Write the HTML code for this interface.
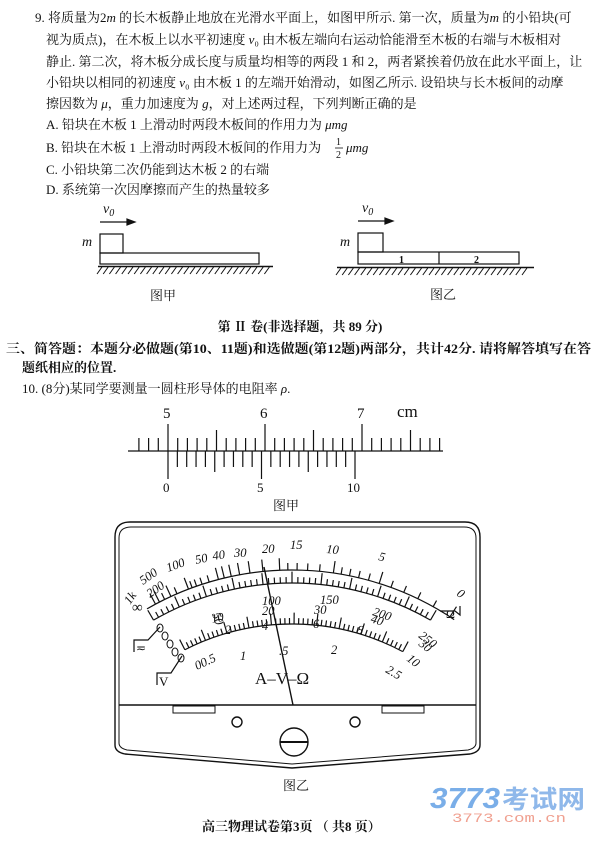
<!DOCTYPE html>
<html><head><meta charset="utf-8">
<style>
body{margin:0;background:#fff;}
svg{display:block}
.t{font-family:"Liberation Serif","Noto Serif CJK SC","Noto Sans CJK SC",serif;font-size:13px;fill:#111}
.b{font-weight:bold}
.n{font-family:"Liberation Serif",serif;fill:#111}
</style></head>
<body>
<svg id="s" width="600" height="842" viewBox="0 0 600 842" xmlns="http://www.w3.org/2000/svg">
<g class="t">
<text x="35" y="22">9. 将质量为2<tspan font-style="italic">m</tspan> 的长木板静止地放在光滑水平面上，如图甲所示. 第一次，质量为<tspan font-style="italic">m</tspan> 的小铅块(可</text>
<text x="46" y="44">视为质点)，在木板上以水平初速度 <tspan font-style="italic">v</tspan>₀ 由木板左端向右运动恰能滑至木板的右端与木板相对</text>
<text x="46" y="66">静止. 第二次，将木板分成长度与质量均相等的两段 1 和 2，两者紧挨着仍放在此水平面上，让</text>
<text x="46" y="87">小铅块以相同的初速度 <tspan font-style="italic">v</tspan>₀ 由木板 1 的左端开始滑动，如图乙所示. 设铅块与长木板间的动摩</text>
<text x="46" y="108">擦因数为 <tspan font-style="italic">μ</tspan>，重力加速度为 <tspan font-style="italic">g</tspan>，对上述两过程，下列判断正确的是</text>
<text x="46" y="129">A. 铅块在木板 1 上滑动时两段木板间的作用力为 <tspan font-style="italic">μmg</tspan></text>
<text x="46" y="152">B. 铅块在木板 1 上滑动时两段木板间的作用力为</text>
<text x="336" y="145" font-size="10">1</text>
<line x1="335" y1="148" x2="343" y2="148" stroke="#111" stroke-width="0.8"/>
<text x="336" y="158" font-size="10">2</text>
<text x="346" y="152" font-style="italic">μmg</text>
<text x="46" y="174">C. 小铅块第二次仍能到达木板 2 的右端</text>
<text x="46" y="194">D. 系统第一次因摩擦而产生的热量较多</text>
</g>

<g stroke="#111" fill="none" stroke-width="1.2">
<text x="103" y="213" class="n" font-style="italic" font-size="14" stroke="none">v<tspan font-size="10" dy="3">0</tspan></text>
<line x1="100" y1="222" x2="133" y2="222"/><path d="M127,219 L135,222 L127,225 Z" fill="#111"/>
<text x="82" y="246" class="n" font-style="italic" font-size="14" stroke="none">m</text>
<rect x="100" y="234" width="23" height="19"/>
<rect x="100" y="253" width="159" height="11"/>
<line x1="98" y1="266.5" x2="273" y2="266.5" stroke-width="1.5"/>
<text x="362" y="212" class="n" font-style="italic" font-size="14" stroke="none">v<tspan font-size="10" dy="3">0</tspan></text>
<line x1="358" y1="221" x2="391" y2="221"/><path d="M385,218 L393,221 L385,224 Z" fill="#111"/>
<text x="340" y="246" class="n" font-style="italic" font-size="14" stroke="none">m</text>
<rect x="358" y="233" width="25" height="19"/>
<rect x="358" y="252" width="161" height="12"/>
<line x1="439" y1="252" x2="439" y2="264"/>
<line x1="337" y1="267.5" x2="534" y2="267.5" stroke-width="1.5"/>
<text x="399" y="263" class="n b" font-size="10" stroke="none">1</text>
<text x="474" y="263" class="n b" font-size="10" stroke="none">2</text>
</g>
<g id="hatch" stroke="#111" stroke-width="1"></g>
<text x="150" y="300" class="t" font-size="12">图甲</text>
<text x="430" y="299" class="t" font-size="12">图乙</text>

<text x="300" y="331" class="t b" font-size="17" text-anchor="middle">第 Ⅱ 卷(非选择题，共 89 分)</text>
<text x="6" y="353" class="t b" font-size="12.8" textLength="585" lengthAdjust="spacingAndGlyphs">三、简答题：本题分必做题(第10、11题)和选做题(第12题)两部分，共计42分. 请将解答填写在答</text>
<text x="22" y="372" class="t b" font-size="12.8">题纸相应的位置.</text>
<text x="22" y="393" class="t" font-size="12.8">10. (8分)某同学要测量一圆柱形导体的电阻率 <tspan font-style="italic">ρ</tspan>.</text>

<g class="n" font-size="15">
<text x="163" y="418">5</text><text x="260" y="418">6</text><text x="357" y="418">7</text>
<text x="397" y="417" font-size="17">cm</text>
<text x="163" y="492" font-size="13">0</text><text x="257" y="492" font-size="13">5</text><text x="347" y="492" font-size="13">10</text>
</g>
<line x1="128" y1="451" x2="443" y2="451" stroke="#111" stroke-width="1.3"/>
<g id="cal" stroke="#111" stroke-width="1.2"></g>
<text x="273" y="510" class="t" font-size="12">图甲</text>

<g stroke="#111" fill="none" stroke-width="1.4">
<path d="M115,745 L115,537 Q115,522 130,522 L465,522 Q480,522 480,537 L480,745 Q480,752 470,754 L292,768 L125,754 Q115,752 115,745 Z"/>
<path d="M119,743 L119,538 Q119,527 131,527 L464,527 Q476,527 476,538 L476,743 Q476,748 468,750 L292,764 L127,750 Q119,748 119,743 Z" stroke-width="1"/>
<line x1="119" y1="705" x2="476" y2="705"/>
<rect x="173" y="706" width="42" height="7" stroke-width="1"/>
<rect x="382" y="706" width="42" height="7" stroke-width="1"/>
<circle cx="237" cy="722" r="5"/>
<circle cx="355" cy="722" r="5"/>
<circle cx="294" cy="742" r="14"/>
<line x1="280" y1="742" x2="308" y2="742" stroke-width="2"/>
</g>
<g id="met" stroke="#111" fill="none" stroke-width="1.2"></g>
<g class="n" font-style="italic" font-size="12.5">
<text x="130" y="605" transform="rotate(-55 130 605)">1k</text>
<text x="143" y="585" transform="rotate(-35 143 585)">500</text>
<text x="150" y="598" transform="rotate(-35 150 598)">200</text>
<text x="168" y="572" transform="rotate(-20 168 572)">100</text>
<text x="196" y="564" transform="rotate(-12 196 564)">50</text>
<text x="213" y="560" transform="rotate(-8 213 560)">40</text>
<text x="234" y="557">30</text>
<text x="262" y="553">20</text>
<text x="290" y="549">15</text>
<text x="326" y="553" transform="rotate(5 326 553)">10</text>
<text x="378" y="560" transform="rotate(14 378 560)">5</text>
<text x="456" y="595" transform="rotate(35 456 595)">0</text>
<text x="132" y="612" font-size="15" font-style="normal">∞</text>
<text x="262" y="605">100</text>
<text x="320" y="604">150</text>
<text x="372" y="615" transform="rotate(18 372 615)">200</text>
<text x="418" y="637" transform="rotate(38 418 637)">250</text>
<text x="212" y="614" transform="rotate(70 212 614)">50</text>
<text x="212" y="623" transform="rotate(-10 212 623)">10</text>
<text x="262" y="615">20</text>
<text x="314" y="614">30</text>
<text x="370" y="622" transform="rotate(18 370 622)">40</text>
<text x="418" y="645" transform="rotate(38 418 645)">30</text>
<text x="225" y="634">2</text>
<text x="262" y="630">4</text>
<text x="313" y="628">6</text>
<text x="356" y="633" transform="rotate(15 356 633)">8</text>
<text x="406" y="660" transform="rotate(38 406 660)">10</text>
<text x="197" y="670" transform="rotate(-25 197 670)">00.5</text>
<text x="240" y="660">1</text>
<text x="279" y="655">.5</text>
<text x="331" y="654">2</text>
<text x="385" y="672" transform="rotate(30 385 672)">2.5</text>
</g>
<text x="255" y="684" class="n" font-size="17">A–V–Ω</text>
<g stroke="#111" fill="none" stroke-width="1.2">
<path d="M440,611 L455,611 L460,615 L460,606"/>
<path d="M134,652 L134,640 L148,640 L160,627"/>
<path d="M157,685 L157,673 L171,673 L182,656"/>
<line x1="264" y1="567" x2="293" y2="705" stroke-width="1.4"/>
</g>
<text x="446" y="618" class="n" font-size="12">Ω</text>
<text x="136" y="652" class="n" font-size="12">≂</text>
<text x="159" y="686" class="n" font-size="13">V</text>
<g fill="none" stroke="#111" stroke-width="1">
<ellipse cx="160" cy="628" rx="3" ry="4"/><ellipse cx="165" cy="636" rx="3" ry="4"/><ellipse cx="170" cy="644" rx="3" ry="4"/><ellipse cx="175" cy="652" rx="3" ry="4"/><ellipse cx="181" cy="658" rx="3" ry="4"/>
</g>
<text x="283" y="790" class="t" font-size="12">图乙</text>

<text x="430" y="808" font-family="Liberation Sans,sans-serif" font-weight="bold" font-style="italic" font-size="29" fill="#7aaee8" textLength="70" lengthAdjust="spacingAndGlyphs">3773</text>
<text x="502" y="808" font-family="Noto Sans CJK SC,sans-serif" font-weight="bold" font-size="25" fill="#8fb8ea" textLength="83" lengthAdjust="spacingAndGlyphs">考试网</text>
<text x="452" y="822" font-family="Liberation Mono,monospace" font-size="13" fill="#f0a090" textLength="114" lengthAdjust="spacingAndGlyphs">3773.com.cn</text>
<text x="202" y="831" class="t b" font-size="12.5">高三物理试卷第3页 （ 共8 页）</text>
</svg>
<script>
(function(){
var NS="http://www.w3.org/2000/svg";
function L(g,x1,y1,x2,y2,w){var l=document.createElementNS(NS,"line");l.setAttribute("x1",x1);l.setAttribute("y1",y1);l.setAttribute("x2",x2);l.setAttribute("y2",y2);if(w)l.setAttribute("stroke-width",w);document.getElementById(g).appendChild(l);}
for(var x=102;x<272;x+=6.2)L("hatch",x,267,x-5,274);
for(var x=341;x<533;x+=6.2)L("hatch",x,268,x-5,275);
var s=9.7;
for(var i=-3;i<=28;i++){var x=168+i*s;if(x>443)break;var m=((i%10)+10)%10;var ty=(m==0)?424:(m==5?430:438);L("cal",x,ty,x,451);}
for(var i=0;i<=20;i++){var x=168+i*9.35;var b=(i%10==0)?479:(i%5==0?472:467);L("cal",x,451,x,b);}
var cx=292,cy=860;
function arc(r,a0,a1){var p=document.createElementNS(NS,"path");var r0=a0*Math.PI/180,r1=a1*Math.PI/180;
p.setAttribute("d","M"+(cx+r*Math.sin(r0))+","+(cy-r*Math.cos(r0))+" A"+r+","+r+" 0 0 1 "+(cx+r*Math.sin(r1))+","+(cy-r*Math.cos(r1)));document.getElementById("met").appendChild(p);}
function ticks(r,a0,a1,n,len,dir,major){for(var i=0;i<=n;i++){var a=(a0+(a1-a0)*i/n)*Math.PI/180;var l=(major&&i%major==0)?len*1.9:len;var r2=r+dir*l;L("met",cx+r*Math.sin(a),cy-r*Math.cos(a),cx+r2*Math.sin(a),cy-r2*Math.cos(a));}}
arc(290,-30,34);arc(277,-30,30);arc(236,-27,28);
var ohm=[0,1,2,3,4,5,6,7,8,9,10,12,14,16,18,20,25,30,35,40,45,50,60,70,80,90,100,150,200,300,500,1000];
for(var i=0;i<ohm.length;i++){var R=ohm[i];var f=15/(15+R);var a=(-29+62*f)*Math.PI/180;var l=(R%5==0&&R<=50)||R==100||R==200||R==500||R==1000?12:7;
L("met",cx+290*Math.sin(a),cy-290*Math.cos(a),cx+(290+l)*Math.sin(a),cy-(290+l)*Math.cos(a));}
ticks(277,-30,30,50,6,1,5);
ticks(236,-27,28,50,6,1,5);
})();
</script>
</body></html>
